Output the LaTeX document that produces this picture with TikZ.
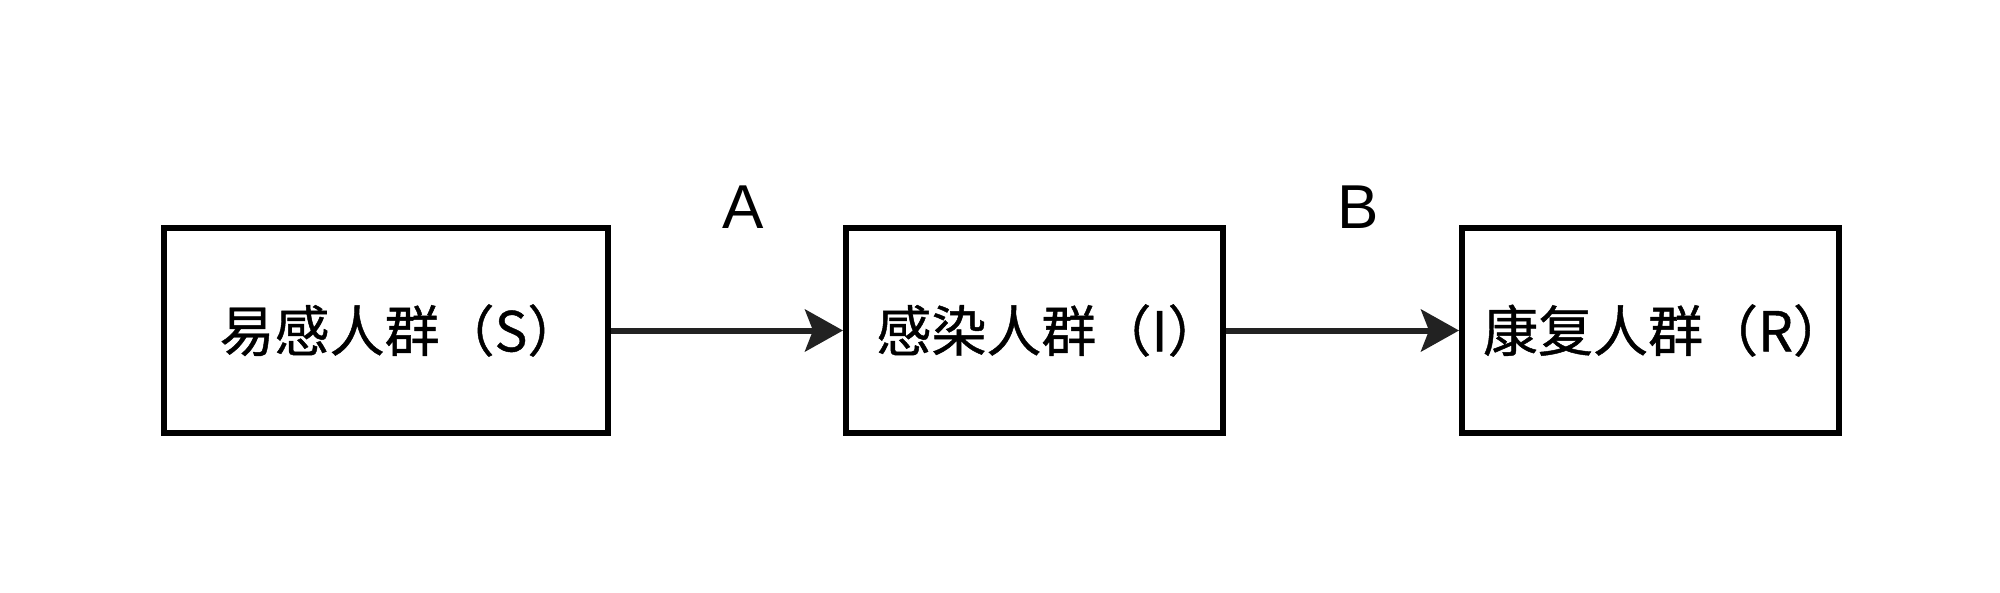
\documentclass[tikz,border=0pt]{standalone}
\usepackage{fontspec}
\newfontfamily\cjk{Noto Sans CJK SC}[FakeBold=0.8]
\newfontfamily\labfont{Liberation Sans}
\usetikzlibrary{arrows.meta}
\definecolor{arrowgray}{HTML}{222222}

\begin{document}
\begin{tikzpicture}[x=0.5pt, y=-0.5pt,
        group/.style={draw=black, line width=3pt, minimum height=102.5pt, inner sep=0pt,
            font=\cjk\fontsize{27.5}{27.5}\selectfont},
        rate/.style={font=\labfont\fontsize{31}{31}\selectfont, inner sep=0pt},
        flow/.style={draw=arrowgray, line width=3pt, -{Stealth[length=19pt, width=21pt, inset=4pt]}}]
        \newcommand\grouptext[1]{\raisebox{-2pt}{#1}\kern-15pt}
        \useasboundingbox (0,0) rectangle (2000,593);
        \node[group, minimum width=222pt] (S) at (386,330.5) {\grouptext{易感人群（S）}};
        \node[group, minimum width=188.5pt] (I) at (1034.5,330.5) {\grouptext{感染人群（I）}};
        \node[group, minimum width=188.5pt] (R) at (1650.5,330.5) {\grouptext{康复人群（R）}};
        \draw[flow] (S) -- (I);
        \draw[flow] (I) -- (R);
        \node[rate] (rateA) at (743,207.5) {A};
        \node[rate] (rateB) at (1358,207.5) {B};
    \end{tikzpicture}
\end{document}
